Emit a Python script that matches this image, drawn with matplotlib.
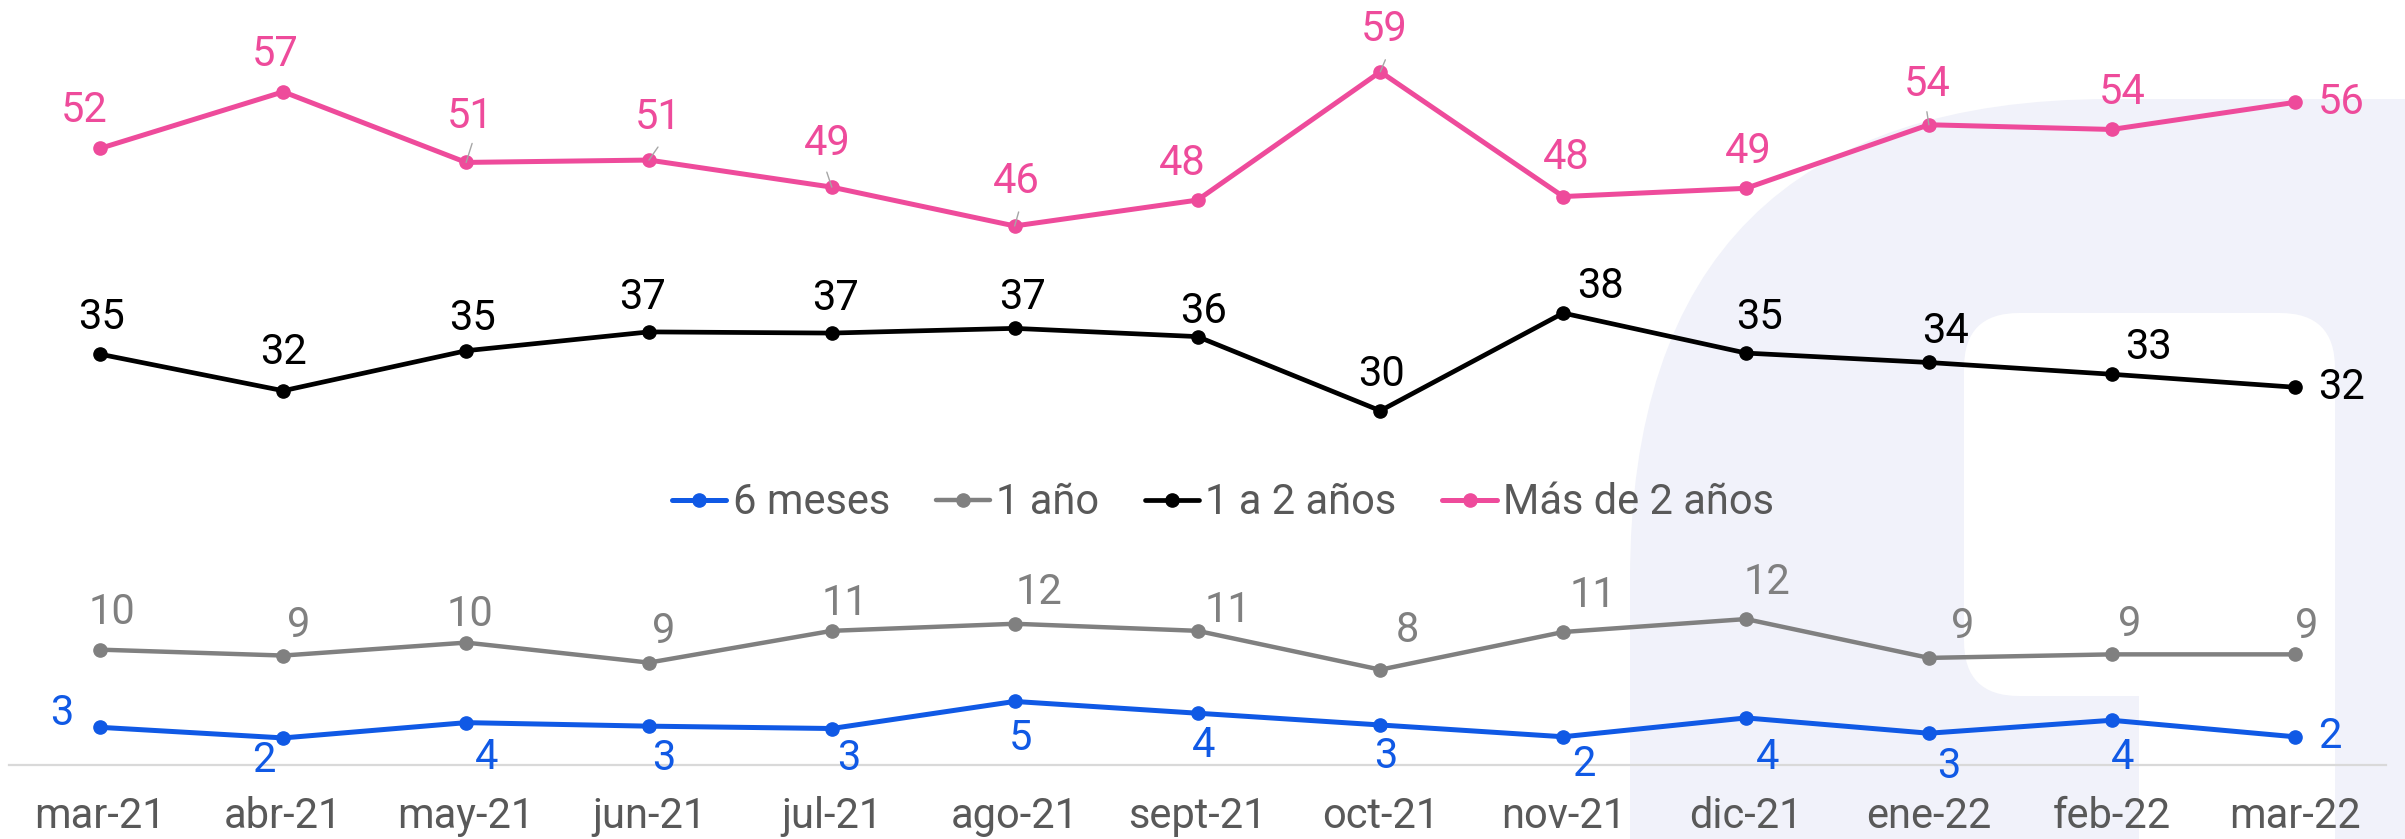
import matplotlib
matplotlib.use("Agg")
import matplotlib.pyplot as plt
import matplotlib.patches as patches

months = ["mar-21", "abr-21", "may-21", "jun-21", "jul-21", "ago-21", "sept-21",
          "oct-21", "nov-21", "dic-21", "ene-22", "feb-22", "mar-22"]

seis_meses = [3.2, 2.3, 3.6, 3.3, 3.1, 5.4, 4.4, 3.4, 2.4, 4.0, 2.7, 3.8, 2.4]
un_anio = [9.8, 9.3, 10.4, 8.7, 11.4, 12.0, 11.4, 8.1, 11.3, 12.4, 9.1, 9.4, 9.4]
uno_a_dos = [34.9, 31.8, 35.2, 36.8, 36.7, 37.1, 36.4, 30.1, 38.4, 35.0, 34.2, 33.2, 32.1]
mas_de_dos = [52.4, 57.2, 51.2, 51.4, 49.1, 45.8, 48.0, 58.9, 48.3, 49.0, 54.4, 54.0, 56.3]

series_names = ["6 meses", "1 año", "1 a 2 años", "Más de 2 años"]

# label placement, pixel offsets (right, up) from each point
off_seis = [(-39, 14), (-19, -23), (20, -35), (15, -32), (17, -30), (6, -37), (6, -32),
            (5, -32), (21, -28), (22, -40), (20, -33), (11, -37), (35, 0)]
off_anio = [(12, 37), (15, 30), (4, 28), (15, 31), (13, 27), (24, 31), (30, 20),
            (27, 39), (30, 37), (21, 37), (34, 31), (18, 30), (12, 28)]
off_uno_dos = [(1, 37), (0, 38), (6, 32), (-6, 34), (4, 35), (8, 31), (6, 25),
               (1, 36), (37, 27), (13, 36), (17, 31), (37, 27), (47, 0)]
off_mas_dos = [(-16, 38), (-8, 37), (4, 46), (9, 43), (-5, 44), (2, 44), (-15, 37),
               (4, 42), (3, 39), (2, 37), (-2, 40), (10, 37), (47, 0)]
# small grey leader lines on the pink series
leaders = {2: (6, 19), 3: (9, 13), 4: (-5, 15), 5: (4, 14), 7: (5, 12), 10: (-2, 13)}

W, H = 2405, 839
FONT = "Roboto"
TEXT_GREY = "#595959"
FS = 30

fig = plt.figure(figsize=(W / 100, H / 100), dpi=100)

# background watermark shape (pixel coordinates)
bg = fig.add_axes([0, 0, 1, 1], zorder=-1)
bg.set_xlim(0, W)
bg.set_ylim(H, 0)
bg.set_axis_off()
lav = "#F1F2FA"
bg.add_patch(patches.FancyBboxPatch((1630, 99), 1400, 1400, boxstyle="round,pad=0,rounding_size=480",
                                    facecolor=lav, edgecolor="none"))
bg.add_patch(patches.FancyBboxPatch((1964, 313), 2335 - 1964, 696 - 313,
                                    boxstyle="round,pad=0,rounding_size=55",
                                    facecolor="white", edgecolor="none"))
bg.add_patch(patches.Rectangle((2139, 600), 2335 - 2139, 400, facecolor="white", edgecolor="none"))
bg.add_patch(patches.FancyBboxPatch((1800, 696), 2139 - 1800, 400,
                                    boxstyle="round,pad=0,rounding_size=35",
                                    facecolor=lav, edgecolor="none"))

ax = fig.add_axes([9 / W, (H - 765) / H, (2386 - 9) / W, 765 / H])
ax.set_facecolor("none")

x = list(range(len(months)))

styles = [
    (seis_meses, "#1059E5", 3.6, off_seis),
    (un_anio, "#808080", 3.2, off_anio),
    (uno_a_dos, "#000000", 3.4, off_uno_dos),
    (mas_de_dos, "#EE4B9B", 3.6, off_mas_dos),
]

for name, (vals, col, lw, offs) in zip(series_names, styles):
    ax.plot(x, vals, color=col, linewidth=lw, marker="o", markersize=9.5,
            solid_capstyle="round", label=name, clip_on=False)
    for i, v in enumerate(vals):
        ax.annotate(f"{v:.0f}", (i, v), xytext=offs[i], textcoords="offset pixels",
                    ha="center", va="center", fontsize=FS, color=col, family=FONT)

for i, d in leaders.items():
    ax.annotate("", (i, mas_de_dos[i]), xytext=d, textcoords="offset pixels",
                arrowprops=dict(arrowstyle="-", color="#A6A6A6", lw=1, shrinkA=0, shrinkB=0))

ax.set_xlim(-0.5, 12.5)
ax.set_ylim(0, 65)
ax.set_xticks(x)
ax.set_xticklabels(months, fontsize=FS, color=TEXT_GREY, family=FONT)
ax.tick_params(axis="x", length=0, pad=22)
ax.set_yticks([])
for s in ["top", "left", "right"]:
    ax.spines[s].set_visible(False)
ax.spines["bottom"].set_color("#D9D9D9")
ax.spines["bottom"].set_linewidth(1.6)

leg = fig.legend(loc="center", bbox_to_anchor=(1223 / W, (H - 503) / H), ncol=4, frameon=False,
                 handlelength=1.3, handletextpad=0.15, columnspacing=1.1,
                 prop={"family": FONT, "size": FS})
for t in leg.get_texts():
    t.set_color(TEXT_GREY)

fig.savefig("out.png", dpi=100)
